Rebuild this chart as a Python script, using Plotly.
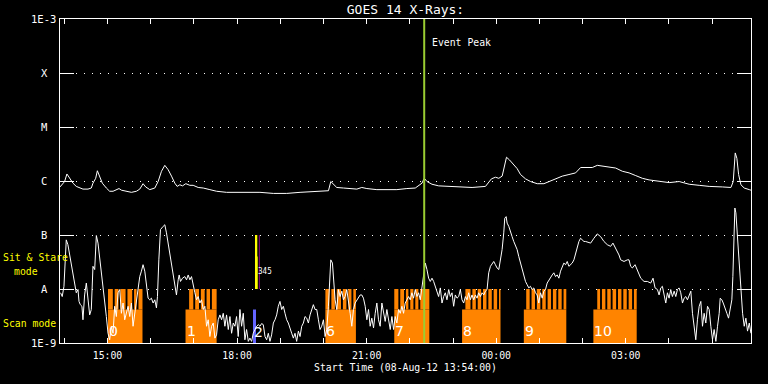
import pandas as pd
import plotly.graph_objects as go

START = pd.Timestamp("2012-08-08 13:54:00")
END = pd.Timestamp("2012-08-09 05:54:00")
EVENT_PEAK = pd.Timestamp("2012-08-08 22:20:00")

# GOES 14 long channel (1-8 A): (minutes after start, log10 flux W/m^2)
LONG_CHANNEL = [
    (0.0, -6.11), (3.1, -6.07), (6.4, -6.01), (9.6, -5.87), (13.4, -5.95), (18.0, -6.04),
    (22.6, -6.10), (27.3, -6.13), (31.9, -6.15), (38.9, -6.15), (43.5, -6.13), (45.8, -6.04),
    (49.6, -5.95), (51.9, -5.81), (55.1, -5.91), (58.8, -6.04), (64.4, -6.13), (69.0, -6.19),
    (73.7, -6.19), (78.3, -6.16), (82.0, -6.14), (85.3, -6.17), (92.2, -6.19), (99.2, -6.21),
    (106.2, -6.19), (110.8, -6.15), (115.4, -6.05), (119.1, -6.11), (124.7, -6.16), (131.7, -6.13),
    (136.3, -6.01), (141.0, -5.82), (145.6, -5.71), (150.2, -5.79), (154.9, -5.91), (159.5, -6.04),
    (162.8, -6.10), (166.5, -6.07), (170.2, -6.09), (174.8, -6.05), (180.4, -6.08), (185.0, -6.08),
    (192.0, -6.12), (199.0, -6.13), (208.2, -6.16), (217.5, -6.19), (231.4, -6.21), (245.4, -6.21),
    (259.3, -6.21), (277.8, -6.21), (296.4, -6.23), (315.0, -6.23), (333.5, -6.21), (352.1, -6.20),
    (366.0, -6.19), (373.0, -6.18), (376.2, -6.01), (379.9, -6.06), (384.5, -6.12), (393.8, -6.13),
    (403.1, -6.14), (412.4, -6.15), (419.3, -6.12), (426.3, -6.14), (440.2, -6.16), (454.1, -6.16),
    (468.0, -6.16), (481.9, -6.14), (493.6, -6.13), (502.9, -6.04), (506.1, -5.95), (509.9, -6.01),
    (516.8, -6.06), (526.1, -6.09), (540.0, -6.10), (558.6, -6.12), (572.5, -6.12), (591.1, -6.10),
    (594.8, -6.04), (599.4, -5.96), (605.0, -5.93), (609.6, -5.95), (614.3, -5.91), (617.5, -5.70),
    (620.3, -5.56), (624.5, -5.61), (628.2, -5.67), (635.1, -5.77), (639.8, -5.88), (646.7, -5.96),
    (653.7, -6.01), (663.0, -6.05), (672.3, -6.05), (679.2, -6.01), (688.5, -5.96), (697.8, -5.91),
    (707.1, -5.88), (716.3, -5.85), (723.3, -5.75), (730.3, -5.75), (739.5, -5.75), (746.5, -5.71),
    (753.5, -5.72), (760.4, -5.73), (767.4, -5.75), (772.0, -5.76), (781.3, -5.82), (790.6, -5.85),
    (799.9, -5.90), (809.1, -5.95), (818.4, -5.98), (832.3, -6.01), (846.3, -6.03), (860.2, -6.01),
    (874.1, -6.06), (888.0, -6.08), (901.9, -6.10), (920.5, -6.11), (932.1, -6.12), (935.3, -6.01),
    (938.1, -5.48), (940.4, -5.58), (942.8, -5.88), (946.0, -6.07), (950.6, -6.13), (957.6, -6.16),
    (959.9, -6.17),
]

# GOES 14 short channel (0.5-4 A): (minutes after start, log10 flux W/m^2)
SHORT_CHANNEL = [
    (0.8, -8.07), (3.1, -8.14), (5.5, -7.95), (7.3, -7.46), (8.7, -7.09), (11.0, -7.18),
    (13.4, -7.37), (15.7, -7.55), (18.0, -7.74), (20.3, -7.92), (22.6, -8.07), (25.0, -8.01),
    (26.4, -8.23), (28.2, -8.29), (30.5, -8.32), (31.9, -8.57), (34.2, -8.11), (36.6, -7.89),
    (38.9, -8.23), (41.2, -8.48), (43.5, -8.38), (45.8, -7.58), (48.2, -7.64), (50.5, -7.01),
    (52.8, -7.15), (55.1, -7.40), (57.4, -7.67), (59.8, -7.95), (62.1, -8.20), (64.4, -8.51),
    (66.7, -8.82), (69.0, -8.94), (71.4, -8.69), (73.7, -8.82), (76.0, -8.32), (78.3, -8.51),
    (80.6, -8.07), (83.0, -8.01), (85.3, -8.45), (87.6, -8.26), (89.9, -8.57), (92.2, -8.45),
    (94.6, -8.32), (96.9, -8.51), (99.2, -8.26), (101.5, -8.69), (103.8, -8.45), (106.2, -8.20),
    (108.5, -8.01), (110.8, -7.77), (113.1, -7.67), (115.4, -7.55), (117.8, -7.67), (120.1, -7.89),
    (122.4, -8.17), (124.7, -8.20), (127.0, -8.17), (129.4, -8.26), (131.7, -8.20), (134.0, -8.35),
    (135.4, -8.14), (137.3, -7.46), (139.6, -6.90), (143.3, -6.84), (145.6, -6.81), (147.9, -6.96),
    (150.2, -7.15), (152.6, -7.40), (154.9, -7.58), (157.2, -7.77), (159.5, -7.95), (161.8, -8.11),
    (164.2, -7.83), (165.6, -7.74), (167.4, -7.86), (170.2, -7.80), (173.4, -7.77), (175.8, -7.83),
    (178.1, -7.74), (180.4, -7.83), (182.7, -7.77), (185.0, -7.95), (187.4, -8.07), (189.7, -8.20),
    (192.0, -8.14), (194.3, -8.26), (196.6, -8.20), (199.0, -8.38), (201.3, -8.32), (203.6, -8.69),
    (205.9, -8.57), (208.2, -8.88), (210.6, -8.69), (212.9, -8.63), (215.2, -8.91), (217.5, -8.85),
    (219.8, -8.57), (222.2, -8.48), (224.5, -8.57), (226.8, -8.45), (229.1, -8.69), (231.4, -8.48),
    (233.8, -8.75), (236.1, -8.51), (238.4, -8.82), (240.7, -8.63),
    (243.0, -8.69), (245.3, -8.51), (247.6, -8.88), (250.0, -8.38), (252.3, -8.69), (254.6, -8.45),
    (256.9, -8.94), (259.2, -8.75), (261.6, -8.97), (263.9, -8.91), (266.2, -8.97), (268.5, -8.82),
    (270.8, -8.75), (273.2, -8.69), (275.5, -8.66), (277.8, -8.69), (280.1, -8.64), (282.4, -8.66),
    (284.8, -8.88), (287.1, -8.94), (289.4, -8.82), (291.7, -8.97), (294.0, -8.85), (296.4, -8.63),
    (298.7, -8.57), (301.0, -8.48), (303.3, -8.32), (305.6, -8.23), (308.0, -8.38), (310.3, -8.32),
    (312.6, -8.45), (314.9, -8.57), (317.2, -8.63), (319.6, -8.75), (321.9, -8.82), (324.2, -8.91),
    (326.5, -8.82), (328.8, -8.97), (331.2, -8.78), (333.5, -8.88), (335.8, -8.69), (338.1, -8.63),
    (340.4, -8.51), (342.8, -8.54), (345.1, -8.63), (347.4, -8.48), (349.7, -8.38), (352.0, -8.29),
    (354.4, -8.38), (356.7, -8.38), (359.0, -8.57), (361.3, -8.75), (363.6, -8.69), (366.0, -8.57),
    (368.3, -8.88), (370.6, -8.75), (372.9, -8.32), (374.3, -7.89), (376.2, -7.46), (378.5, -7.52),
    (380.8, -7.89), (382.2, -8.20), (384.5, -8.38), (386.8, -8.01), (389.2, -8.14), (391.5, -8.04),
    (393.8, -8.20), (396.1, -8.14), (398.4, -8.01), (400.8, -8.20), (403.1, -8.45), (405.4, -8.69),
    (407.7, -8.38), (410.0, -8.26), (412.4, -8.20), (414.7, -8.17), (417.0, -8.11), (419.3, -8.11),
    (421.6, -8.17), (424.0, -8.32), (426.3, -8.57), (428.6, -8.38), (430.9, -8.69), (433.2, -8.54),
    (435.6, -8.72), (437.9, -8.45), (440.2, -8.26), (442.5, -8.57), (444.8, -8.69), (447.2, -8.26),
    (449.5, -8.45), (451.8, -8.60), (454.1, -8.38), (456.4, -8.57), (458.8, -8.75), (461.1, -8.51),
    (463.4, -8.75), (465.7, -8.51), (468.0, -8.63), (470.4, -8.38), (472.7, -8.45), (475.0, -8.32),
    (477.3, -8.45), (479.6, -8.26), (482.0, -8.20), (484.3, -8.14),
    (486.6, -8.20), (488.9, -8.07), (491.2, -8.17), (493.6, -8.01), (495.9, -8.14), (498.2, -8.07),
    (500.5, -8.20), (502.8, -7.98), (505.2, -7.77), (507.5, -7.52), (509.8, -7.64), (512.1, -7.80),
    (514.4, -7.86), (516.8, -7.80), (519.1, -7.86), (521.4, -7.95), (523.7, -8.01), (526.0, -8.14),
    (528.4, -7.98), (530.7, -8.26), (533.0, -8.14), (535.3, -8.07), (537.6, -8.20), (540.0, -8.01),
    (542.3, -8.14), (544.6, -8.07), (546.9, -8.32), (549.2, -8.11), (551.6, -8.17), (553.9, -8.14),
    (556.2, -8.01), (558.5, -8.20), (560.8, -8.26), (563.2, -8.14), (565.5, -8.20), (567.8, -8.07),
    (570.1, -8.20), (572.4, -8.11), (574.8, -8.20), (577.1, -8.11), (579.4, -8.17), (581.7, -8.07),
    (584.0, -8.14), (586.4, -8.07), (588.7, -8.11), (591.0, -8.04), (593.3, -8.01), (595.6, -7.70),
    (598.0, -7.58), (600.3, -7.52), (602.6, -7.49), (604.9, -7.55), (607.2, -7.61), (609.6, -7.64),
    (611.9, -7.49), (614.2, -7.27), (616.5, -6.96), (617.9, -6.69), (619.8, -6.66), (621.2, -6.78),
    (623.5, -6.84), (625.8, -6.96), (628.1, -7.03), (630.4, -7.12), (632.8, -7.21), (635.1, -7.27),
    (637.4, -7.40), (639.7, -7.52), (642.0, -7.64), (644.4, -7.77), (646.7, -7.86), (649.0, -7.92),
    (651.3, -7.98), (653.6, -7.95), (656.0, -8.01), (658.3, -7.98), (660.6, -8.07), (662.9, -8.11),
    (665.2, -8.26), (667.6, -8.07), (669.9, -8.17), (672.2, -8.04), (674.5, -8.01), (676.8, -7.89),
    (679.2, -7.83), (681.5, -7.80), (683.8, -7.74), (686.1, -7.70), (688.4, -7.77), (690.8, -7.74),
    (693.1, -7.80), (695.4, -7.67), (697.7, -7.58), (700.0, -7.52), (702.4, -7.55), (704.7, -7.49),
    (707.0, -7.58), (709.3, -7.55), (711.6, -7.52), (714.0, -7.46), (716.3, -7.33), (718.6, -7.21),
    (720.9, -7.12), (723.2, -7.06), (725.6, -7.09), (727.9, -7.12),
    (730.2, -7.12), (737.2, -7.15), (741.8, -7.06), (746.4, -6.98), (751.1, -7.03), (755.7, -7.12),
    (760.4, -7.18), (765.0, -7.21), (768.2, -7.15), (772.0, -7.24), (776.6, -7.37), (778.9, -7.46),
    (783.6, -7.49), (788.2, -7.46), (790.5, -7.46), (792.8, -7.58), (795.2, -7.61), (798.9, -7.55),
    (802.1, -7.64), (806.8, -7.80), (811.4, -7.86), (816.0, -7.86), (820.7, -7.89), (823.9, -7.80),
    (826.7, -7.98), (830.0, -8.01), (832.3, -8.11), (834.6, -7.98), (836.9, -7.95), (839.2, -8.14),
    (841.6, -8.26), (843.9, -8.07), (846.2, -8.17), (848.5, -8.01), (850.8, -8.14), (853.2, -8.04),
    (855.5, -8.14), (857.8, -8.01), (860.1, -7.98), (862.4, -8.07), (864.8, -8.26), (867.1, -8.17),
    (869.4, -8.14), (871.7, -8.20), (874.0, -8.11), (876.4, -8.04), (878.7, -8.45), (881.0, -8.69),
    (883.3, -8.94), (885.6, -8.57), (888.0, -8.32), (890.3, -8.23), (892.6, -8.69), (894.9, -8.45),
    (897.2, -8.63), (899.6, -8.32), (901.9, -8.38), (904.2, -8.69), (906.5, -8.94), (908.8, -8.75),
    (911.2, -8.97), (913.5, -8.69), (915.8, -8.45), (917.2, -8.17), (919.5, -8.20), (921.4, -8.26),
    (924.2, -8.35), (926.5, -8.45), (928.8, -8.54), (931.1, -8.38), (933.4, -8.20), (934.8, -7.77),
    (936.2, -6.96), (937.6, -6.50), (939.0, -6.59), (941.3, -7.09), (943.6, -7.58), (945.6, -8.01),
    (948.3, -8.45), (950.6, -8.69), (952.9, -8.54), (955.2, -8.78), (957.6, -8.63), (959.9, -8.82),
]

# observing sequences (minutes after start)
SCAN_LABELS = ["0", "1", "6", "7", "8", "9", "10"]
SCAN_START = [66.7, 174.4, 368.7, 464.4, 558.6, 644.4, 741.0]
SCAN_END = [114.6, 217.6, 411.1, 513.1, 612.0, 703.4, 801.2]
SCAN_EXPOSURES = [
    [66.7, 76.0, 83.9, 93.7, 102.9, 109.0],
    [179.4, 187.8, 195.7, 203.6, 211.0],
    [368.7, 377.0, 384.5, 393.0, 400.5, 407.5],
    [464.4, 472.7, 480.6, 486.6, 493.6, 500.5],
    [563.2, 572.9, 580.3, 587.7, 595.1, 602.5, 609.9],
    [647.7, 655.1, 662.5, 670.0, 677.4, 684.8, 692.2, 699.6],
    [746.4, 752.9, 760.3, 767.7, 775.2, 782.6, 790.0, 797.4],
]
EXPOSURE_GAP = 2.6  # minutes of dead time between exposures

SCAN2_LABEL, SCAN2_START, SCAN2_END = "2", 268.1, 272.3
STARE_LABEL = "345"
STARE_START, STARE_END = 270.9, 274.1
STARE_EXTRA_END, STARE_EXTRA_TOP = 275.0, -7.40
STARE_MARK = (276.3, 277.3)

MODE_SCAN_TOP = -8.38   # top of "scan mode" band
MODE_TEETH_TOP = -8.0   # top of exposure comb
MODE_STARE = (-8.0, -7.0)

CLASS_LEVELS = [-3, -4, -5, -6, -7, -8, -9]
CLASS_LABELS = ["1E-3", "X", "M", "C", "B", "A", "1E-9"]

TICK_TIMES = ["2012-08-08 %02d:00" % h for h in range(14, 24)] + \
             ["2012-08-09 %02d:00" % h for h in range(0, 6)]
TICK_TEXT = ["", "15:00", "", "", "18:00", "", "", "21:00", "", "", "00:00", "", "", "03:00", "", ""]


def tm(m):
    return START + pd.Timedelta(minutes=m)


MONO = "DejaVu Sans Mono"
WHITE = "#ffffff"
ORANGE = "#ff8400"

fig = go.Figure()

long_t, long_f = zip(*LONG_CHANNEL)
short_t, short_f = zip(*SHORT_CHANNEL)
for mins, vals in [(long_t, long_f), (short_t, short_f)]:
    fig.add_trace(go.Scatter(x=[tm(m) for m in mins], y=list(vals), mode="lines",
                             line=dict(color=WHITE, width=1), hoverinfo="skip", showlegend=False))

shapes = []
for start, end, exps in zip(SCAN_START, SCAN_END, SCAN_EXPOSURES):
    shapes.append(dict(type="rect", xref="x", yref="y", x0=tm(start), x1=tm(end),
                       y0=-9, y1=MODE_SCAN_TOP, fillcolor=ORANGE, line_width=0, layer="between"))
    for i, e in enumerate(exps):
        stop = exps[i + 1] - EXPOSURE_GAP if i + 1 < len(exps) else end
        shapes.append(dict(type="rect", xref="x", yref="y", x0=tm(e), x1=tm(stop),
                           y0=MODE_SCAN_TOP, y1=MODE_TEETH_TOP, fillcolor=ORANGE, line_width=0,
                           layer="between"))

shapes.append(dict(type="rect", xref="x", yref="y", x0=tm(SCAN2_START), x1=tm(SCAN2_END),
                   y0=-9, y1=MODE_SCAN_TOP, fillcolor="#6464ff", line_width=0, layer="between"))
shapes.append(dict(type="rect", xref="x", yref="y", x0=tm(STARE_START), x1=tm(STARE_END),
                   y0=MODE_STARE[0], y1=MODE_STARE[1], fillcolor="#ffff00", line_width=0, layer="between"))
shapes.append(dict(type="rect", xref="x", yref="y", x0=tm(STARE_END), x1=tm(STARE_EXTRA_END),
                   y0=MODE_STARE[0], y1=STARE_EXTRA_TOP, fillcolor="#ffff00", line_width=0, layer="between"))
shapes.append(dict(type="rect", xref="x", yref="y", x0=tm(STARE_MARK[0]), x1=tm(STARE_MARK[1]),
                   y0=MODE_STARE[0], y1=MODE_STARE[1], fillcolor="#c000c0", line_width=0, layer="between"))
shapes.append(dict(type="line", xref="x", yref="paper", x0=EVENT_PEAK, x1=EVENT_PEAK, y0=0, y1=1,
                   line=dict(color="#9acd32", width=2), layer="above"))

ann = []
for lvl, lab in zip(CLASS_LEVELS, CLASS_LABELS):
    if lab.startswith("1E"):
        ann.append(dict(x=0, xref="paper", y=lvl, yref="y", text=lab, showarrow=False,
                        xanchor="right", xshift=-2, font=dict(family=MONO, size=10.5, color=WHITE)))
    else:
        ann.append(dict(x=0, xref="paper", y=lvl, yref="y", text=lab, showarrow=False,
                        xanchor="center", xshift=-16, font=dict(family=MONO, size=10.5, color=WHITE)))

yel = dict(family=MONO, size=9.8, color="#ffff00")
ann.append(dict(x=0, xref="paper", xshift=-59, xanchor="left", y=-7.42, yref="y",
                text="Sit & Stare", showarrow=False, font=yel))
ann.append(dict(x=0, xref="paper", xshift=-48, xanchor="left", y=-7.67, yref="y",
                text="mode", showarrow=False, font=yel))
ann.append(dict(x=0, xref="paper", xshift=-59, xanchor="left", y=-8.64, yref="y",
                text="Scan mode", showarrow=False, font=yel))

ann.append(dict(x=EVENT_PEAK, xref="x", y=-3.44, yref="y", text="Event Peak", showarrow=False,
                xanchor="left", xshift=6, font=dict(family=MONO, size=9.8, color=WHITE)))

num_font = dict(family="DejaVu Sans", size=14, color=WHITE)
for lab, start in zip(SCAN_LABELS, SCAN_START):
    ann.append(dict(x=tm(start), xref="x", y=-8.77, yref="y", text=lab, showarrow=False,
                    xanchor="left", xshift=-1, font=num_font))
ann.append(dict(x=tm(SCAN2_START), xref="x", y=-8.79, yref="y", text=SCAN2_LABEL, showarrow=False,
                xanchor="left", xshift=-1, font=num_font))
ann.append(dict(x=tm(STARE_START), xref="x", y=-7.67, yref="y", text=STARE_LABEL, showarrow=False,
                xanchor="left", xshift=1, font=dict(family="DejaVu Sans Condensed", size=8, color=WHITE)))

fig.update_layout(
    width=768, height=384,
    margin=dict(l=60, r=17, t=19, b=41),
    paper_bgcolor="black", plot_bgcolor="black",
    shapes=shapes, annotations=ann,
    title=dict(text="GOES 14 X-Rays:", x=0.5, xref="paper", xanchor="center",
               y=1 - 9 / 384, yref="container", yanchor="middle",
               font=dict(family=MONO, size=13, color=WHITE)),
    xaxis=dict(type="date", range=[START, END], tickvals=TICK_TIMES, ticktext=TICK_TEXT,
               ticks="inside", ticklen=5, tickcolor=WHITE, tickwidth=1,
               showline=True, linecolor=WHITE, linewidth=1, mirror="ticks",
               showgrid=False, zeroline=False,
               tickfont=dict(family=MONO, size=9.8, color=WHITE), ticklabelstandoff=3,
               title=dict(text="Start Time (08-Aug-12 13:54:00)", standoff=4,
                          font=dict(family=MONO, size=9.8, color=WHITE))),
    yaxis=dict(range=[-9, -3], tickvals=CLASS_LEVELS, showticklabels=False,
               ticks="inside", ticklen=14, tickcolor=WHITE, tickwidth=1,
               showline=True, linecolor=WHITE, linewidth=1, mirror="ticks",
               showgrid=True, gridcolor=WHITE, gridwidth=1, griddash="1px,7px",
               zeroline=False),
    showlegend=False,
)

fig.write_html("out.html")
